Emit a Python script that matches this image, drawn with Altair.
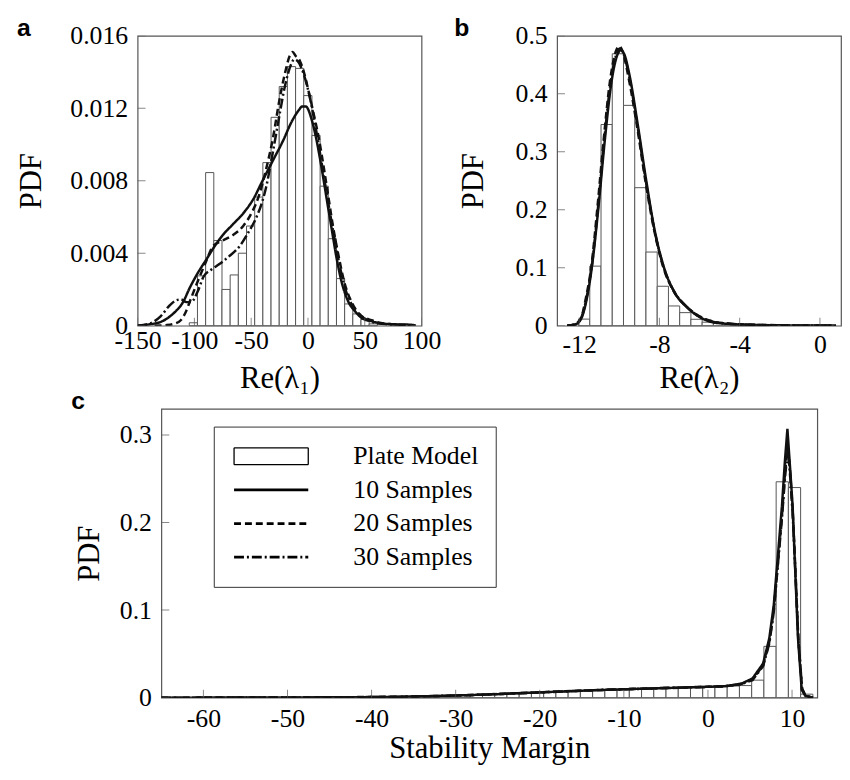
import altair as alt
import pandas as pd

SERIF = "Liberation Serif"
SANS = "Liberation Sans"
INK = "#111111"
FRAME = "#555555"
BAR = "#555555"

SERIES = ["10 Samples", "20 Samples", "30 Samples"]

# ---------------- Panel a : Re(lambda_1) ----------------
a_bin_start = -104.5
a_bin_width = 7.2
a_hist = [0.00016, 0.00275, 0.00845, 0.0047, 0.0020, 0.0028, 0.0040, 0.0055, 0.0071,
          0.0090, 0.0115, 0.0132, 0.0143, 0.0142, 0.0127, 0.0105, 0.0077, 0.0048,
          0.0026, 0.0012, 0.00065, 0.00034, 0.0001]
a10_x = [-150, -140, -130, -124, -118, -110, -104, -98, -89, -82, -75, -66, -57, -48, -40,
         -31, -22, -14, -8, -5, -2, 3.6, 8, 12.3, 17, 21, 25, 29.7, 35, 41.4, 48, 55.8, 65,
         75, 90.7, 95]
a10_y = [0, 0.00007, 0.0002, 0.0004, 0.0007, 0.0013, 0.0021, 0.0028, 0.0037, 0.0044, 0.0050,
         0.0056, 0.0062, 0.0070, 0.0080, 0.0091, 0.0102, 0.0113, 0.0119, 0.0121, 0.0121,
         0.0113, 0.0101, 0.0086, 0.0068, 0.0053, 0.0038, 0.0024, 0.0014, 0.0008, 0.0004,
         0.00025, 0.00012, 0.00008, 0.00005, 0]
a20_x = [-135, -125, -118, -112, -108, -103, -98, -90, -83.5, -75, -66, -57, -49, -43, -37,
         -31, -25, -20, -16, -13.5, -11, -7, -3.6, 0.7, 5, 9.4, 14, 18, 22, 26.8, 32, 38.4,
         46, 56, 70, 90]
a20_y = [0, 0.00003, 0.0001, 0.0003, 0.0007, 0.0015, 0.0023, 0.0035, 0.0044, 0.0047, 0.0050,
         0.0055, 0.0063, 0.0072, 0.0086, 0.0103, 0.0125, 0.0140, 0.0149, 0.0151, 0.0149,
         0.0146, 0.0140, 0.0129, 0.0117, 0.0104, 0.0087, 0.0071, 0.0055, 0.0039, 0.0024,
         0.0013, 0.0006, 0.0003, 0.0001, 0.00003]
a30_x = [-150, -140, -130, -122, -116, -112, -107, -103, -97, -92, -85, -78, -70, -60, -52,
         -46, -41, -37, -32, -26, -20, -15, -12, -9, -5, -1, 3, 8, 12, 17, 22, 27, 33, 40,
         50, 65, 90]
a30_y = [0, 0.0001, 0.0005, 0.0011, 0.0014, 0.00145, 0.0013, 0.0013, 0.0019, 0.0027, 0.0031,
         0.0034, 0.0038, 0.0044, 0.0052, 0.0059, 0.0067, 0.0076, 0.0092, 0.0113, 0.0133,
         0.0144, 0.0147, 0.0146, 0.0141, 0.0133, 0.0122, 0.0105, 0.0090, 0.0071, 0.0053,
         0.0036, 0.0020, 0.0010, 0.0004, 0.0001, 0.00003]
a_xticks = [-150, -100, -50, 0, 50, 100]
a_yticks = [0, 0.004, 0.008, 0.012, 0.016]

# ---------------- Panel b : Re(lambda_2) ----------------
b_bin_start = -12.03
b_bin_width = 0.56
b_hist = [0.0113, 0.1027, 0.347, 0.469, 0.380, 0.238, 0.127, 0.068, 0.034, 0.0225, 0.011,
          0.006, 0.004, 0.003, 0.002, 0.0015, 0.001]
b10_x = [-12.6, -12.2, -11.9, -11.6, -11.37, -11.05, -10.72, -10.39, -10.06, -9.93, -9.75,
         -9.49, -9.08, -8.66, -8.25, -7.76, -7.27, -6.61, -5.95, -5.3, -4.5, -3.5, -2.5,
         -1.5, -0.5, 0.8]
b10_y = [0, 0.002, 0.012, 0.05, 0.10, 0.20, 0.32, 0.42, 0.47, 0.475, 0.468, 0.432, 0.347,
         0.251, 0.167, 0.099, 0.059, 0.031, 0.014, 0.0056, 0.003, 0.0015, 0.0008, 0.0004,
         0.0002, 0.0001]
b20_x = [-12.6, -12.2, -11.9, -11.65, -11.4, -11.1, -10.78, -10.45, -10.15, -10.0, -9.82,
         -9.55, -9.12, -8.7, -8.28, -7.8, -7.3, -6.65, -6.0, -5.3, -4.5, -3.5, -2.5, -1.5,
         -0.5, 0.8]
b20_y = [0, 0.003, 0.014, 0.05, 0.10, 0.20, 0.32, 0.425, 0.475, 0.482, 0.472, 0.43, 0.345,
         0.25, 0.168, 0.10, 0.06, 0.033, 0.016, 0.007, 0.0035, 0.0018, 0.001, 0.0005, 0.0003,
         0.0001]
b30_x = [-12.6, -12.2, -11.9, -11.62, -11.38, -11.07, -10.75, -10.42, -10.1, -9.97, -9.8,
         -9.52, -9.1, -8.68, -8.26, -7.78, -7.28, -6.62, -5.97, -5.3, -4.5, -3.5, -2.5, -1.5,
         -0.5, 0.8]
b30_y = [0, 0.002, 0.013, 0.05, 0.10, 0.20, 0.32, 0.422, 0.472, 0.478, 0.47, 0.432, 0.346,
         0.25, 0.167, 0.10, 0.06, 0.032, 0.015, 0.0065, 0.0033, 0.0017, 0.0009, 0.0005,
         0.0002, 0.0001]
b_xticks = [-12, -8, -4, 0]
b_yticks = [0, 0.1, 0.2, 0.3, 0.4, 0.5]

# ---------------- Panel c : Stability margin ----------------
c_bin_start = -41.36
c_bin_width = 1.455
c_hist = [0.0004, 0.0006, 0.0008, 0.0010, 0.0012, 0.0015, 0.0018, 0.0022, 0.0027, 0.0031,
          0.0036, 0.0041, 0.0047, 0.0053, 0.0058, 0.0063, 0.0068, 0.0072, 0.0078, 0.0083,
          0.0088, 0.0092, 0.0098, 0.0103, 0.0107, 0.0113, 0.0117, 0.0123, 0.0126, 0.0130,
          0.0133, 0.0138, 0.0200, 0.0586, 0.2466, 0.2400, 0.0040]
c10_x = [-65, -50, -42, -37, -33, -29, -25, -21, -17, -13, -9, -5, -1, 2, 4, 5.3, 6.56, 7.3,
         7.83, 8.3, 8.8, 9.15, 9.45, 9.75, 10.07, 10.4, 10.7, 11.15, 11.6, 12.5]
c10_y = [0, 0.0002, 0.0005, 0.0010, 0.0017, 0.0028, 0.0040, 0.0057, 0.0072, 0.0087, 0.0099,
         0.0110, 0.0121, 0.0130, 0.0160, 0.022, 0.039, 0.068, 0.106, 0.160, 0.219, 0.270,
         0.307, 0.265, 0.219, 0.140, 0.069, 0.009, 0.002, 0]
c20_x = [-65, -50, -42, -37, -33, -29, -25, -21, -17, -13, -9, -5, -1, 2, 4, 5.3, 6.56, 7.3,
         7.83, 8.3, 8.8, 9.15, 9.5, 9.8, 10.1, 10.45, 10.75, 11.2, 11.6, 12.5]
c20_y = [0, 0.0002, 0.0006, 0.0011, 0.0016, 0.0027, 0.0042, 0.0055, 0.0074, 0.0085, 0.0101,
         0.0108, 0.0123, 0.0128, 0.0158, 0.021, 0.037, 0.064, 0.100, 0.152, 0.208, 0.255,
         0.290, 0.255, 0.210, 0.135, 0.067, 0.010, 0.002, 0]
c30_x = [-65, -50, -42, -37, -33, -29, -25, -21, -17, -13, -9, -5, -1, 2, 4, 5.3, 6.56, 7.3,
         7.83, 8.3, 8.8, 9.15, 9.5, 9.8, 10.1, 10.45, 10.75, 11.2, 11.6, 12.5]
c30_y = [0, 0.0001, 0.0005, 0.0009, 0.0018, 0.0026, 0.0041, 0.0058, 0.0070, 0.0089, 0.0097,
         0.0112, 0.0119, 0.0132, 0.0155, 0.020, 0.036, 0.062, 0.098, 0.150, 0.205, 0.250,
         0.285, 0.250, 0.205, 0.132, 0.066, 0.010, 0.002, 0]
c_xticks = [-60, -50, -40, -30, -20, -10, 0, 10]
c_yticks = [0, 0.1, 0.2, 0.3]

LEGEND_ORDER = ["Plate Model", "10 Samples", "20 Samples", "30 Samples"]


def hist_df(start, width, heights):
    return pd.DataFrame({
        "x0": [start + i * width for i in range(len(heights))],
        "x1": [start + (i + 1) * width for i in range(len(heights))],
        "pdf": heights,
    })


def curves_df(sets):
    rows = []
    for name, xs, ys in sets:
        for i, (x, y) in enumerate(zip(xs, ys)):
            rows.append({"series": name, "x": x, "pdf": y, "order": i})
    return pd.DataFrame(rows)


X_LABELS = "datum.value < 0 ? '-' + abs(datum.value) : '' + datum.value"


def panel(hist, curves, xdom, ydom, xticks, yticks, yfmt, xtitle, letter, letter_dx,
          w, h, xlabpad, xtitlepad, ytitlepad, interp, legend):
    xs = alt.Scale(domain=xdom, nice=False, zero=False)
    ys = alt.Scale(domain=ydom, nice=False, zero=False)
    xaxis = alt.Axis(values=xticks, labelExpr=X_LABELS, title=xtitle, domain=False,
                     ticks=False, tickSize=0, grid=False, labelFlush=False,
                     labelOverlap=False, labelFont=SERIF, labelFontSize=26,
                     labelColor="black", labelPadding=xlabpad, titleFont=SERIF,
                     titleFontSize=31, titleFontWeight="normal", titleColor="black",
                     titlePadding=xtitlepad)
    yaxis = alt.Axis(values=yticks,
                     labelExpr="datum.value == 0 ? '0' : format(datum.value, '" + yfmt + "')",
                     title="PDF", domain=False, ticks=False, tickSize=0, grid=False,
                     labelFlush=False, labelOverlap=False, labelFont=SERIF,
                     labelFontSize=26, labelColor="black", labelPadding=10,
                     titleFont=SERIF, titleFontSize=31, titleFontWeight="normal",
                     titleColor="black", titlePadding=ytitlepad)
    dash = alt.Scale(domain=LEGEND_ORDER, range=[[1, 0], [1, 0], [7, 4], [10, 3, 2, 3]])

    bars = alt.Chart(hist).mark_rect(fill="white", stroke=BAR, strokeWidth=1).encode(
        x=alt.X("x0:Q", scale=xs, axis=xaxis), x2="x1:Q",
        y=alt.Y("pdf:Q", scale=ys, axis=yaxis), y2=alt.datum(0))
    lines = alt.Chart(curves).mark_line(interpolate=interp, strokeWidth=2.5, color=INK,
                                        clip=True).encode(
        x=alt.X("x:Q", scale=xs, axis=xaxis), y=alt.Y("pdf:Q", scale=ys, axis=yaxis),
        strokeDash=alt.StrokeDash("series:N", scale=dash, legend=legend),
        order="order:Q")
    xt = alt.Chart(pd.DataFrame({"t": xticks})).mark_tick(
        orient="vertical", size=16, thickness=1, color=FRAME, clip=True).encode(
        x=alt.X("t:Q", scale=xs, axis=xaxis), y=alt.datum(ydom[0]))
    yt = alt.Chart(pd.DataFrame({"t": yticks})).mark_tick(
        orient="horizontal", size=16, thickness=1, color=FRAME, clip=True).encode(
        y=alt.Y("t:Q", scale=ys, axis=yaxis), x=alt.datum(xdom[0]))
    lab = alt.Chart(pd.DataFrame({"t": [letter]})).mark_text(
        align="left", baseline="alphabetic", font=SANS, fontSize=25, fontWeight="bold",
        color="black").encode(text="t:N", x=alt.value(letter_dx), y=alt.value(0))
    return alt.layer(bars, lines, xt, yt, lab).properties(width=w, height=h)


ha = hist_df(a_bin_start, a_bin_width, a_hist)
ca = curves_df([(SERIES[0], a10_x, a10_y), (SERIES[1], a20_x, a20_y), (SERIES[2], a30_x, a30_y)])
hb = hist_df(b_bin_start, b_bin_width, b_hist)
cb = curves_df([(SERIES[0], b10_x, b10_y), (SERIES[1], b20_x, b20_y), (SERIES[2], b30_x, b30_y)])
hc = hist_df(c_bin_start, c_bin_width, c_hist)
cc = curves_df([(SERIES[0], c10_x, c10_y), (SERIES[1], c20_x, c20_y), (SERIES[2], c30_x, c30_y)])

SHAPE_EXPR = "datum.value === 'Plate Model' ? 'M-1,-0.68H5V0.68H-1Z' : 'M-1,0H5'"
WIDTH_EXPR = "datum.value === 'Plate Model' ? 1.3 : 2.8"

legend_c = alt.Legend(
    title=None, orient="none", legendX=53, legendY=18, direction="vertical",
    fillColor="white", strokeColor="#333333", padding=17, rowPadding=8,
    labelFont=SERIF, labelFontSize=26, labelColor="black", labelOffset=95,
    symbolSize=625, symbolType=alt.ExprRef(expr=SHAPE_EXPR), symbolOffset=3,
    symbolStrokeColor="black", symbolStrokeWidth=alt.ExprRef(expr=WIDTH_EXPR),
    symbolFillColor="transparent",
)

TOP_H = 293
C_H = 292
ROW_GAP = 84

pa = panel(ha, ca, [-150, 100], [0, 0.016], a_xticks, a_yticks, ".3f", "Re(λ₁)", "a",
           -122, 287, TOP_H, 2, 10, 23, "monotone", None)
pb = panel(hb, cb, [-13.1, 1.05], [0, 0.5], b_xticks, b_yticks, ".1f", "Re(λ₂)", "b",
           -104, 287, TOP_H, 6, 6, 26, "monotone", None)
pc = panel(hc, cc, [-65, 13], [0, 0.33], c_xticks, c_yticks, ".1f", "Stability Margin", "c",
           -91, 663, C_H, 8, 2, 14, "linear", legend_c)

spacer = alt.Chart(pd.DataFrame({"v": [0]})).mark_point(opacity=0).encode(
    x=alt.X("v:Q", axis=None, scale=alt.Scale(domain=[-1, 1])),
    y=alt.Y("v:Q", axis=None, scale=alt.Scale(domain=[-1, 1]))
).properties(width=4, height=4, view=alt.ViewBackground(stroke="transparent"))

top = alt.hconcat(pa, pb, spacing=137, bounds="flush").resolve_scale(strokeDash="independent")
bottom = alt.hconcat(spacer, pc, spacing=20, bounds="flush").resolve_scale(strokeDash="independent")

# nested flush rows count as zero height, so the row spacing is the full step
chart = alt.vconcat(top, bottom, spacing=TOP_H + ROW_GAP, bounds="flush").resolve_scale(
    strokeDash="independent"
).properties(
    padding={"left": 6, "top": 3, "right": 0, "bottom": 0},
    background="white",
).configure_view(stroke=FRAME, strokeWidth=1.2)

chart.save("out.html", embed_options={"renderer": "svg", "actions": False})
